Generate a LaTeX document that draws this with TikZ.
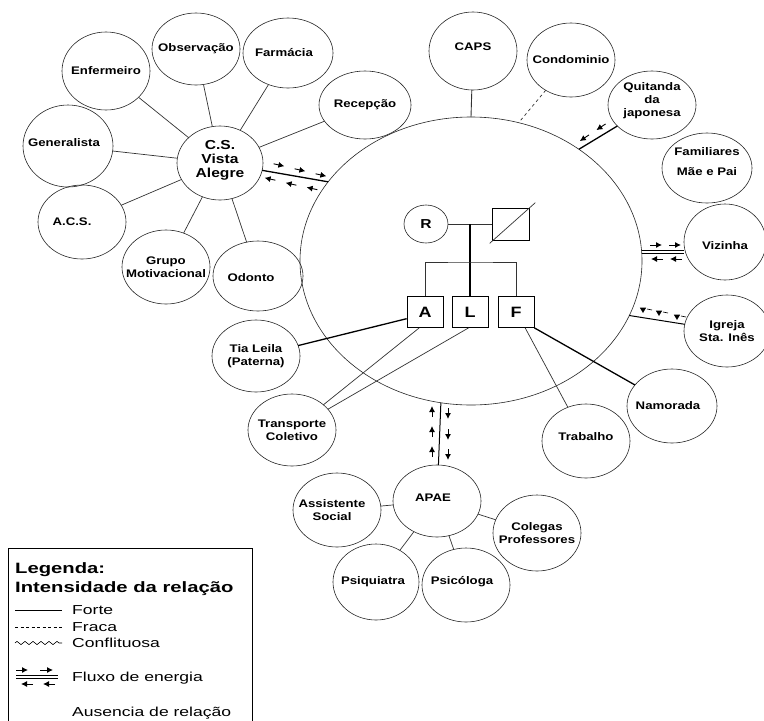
\documentclass[tikz,border=0pt]{standalone}
\usepackage{fontspec}
\setmainfont[FakeStretch=1.2]{Liberation Sans}
\newfontfamily\legf[FakeStretch=1.35]{Liberation Sans}
\usetikzlibrary{shapes.geometric,arrows.meta,decorations.pathmorphing,calc}
\begin{document}
\begin{tikzpicture}[x=1pt,y=-1pt,
  ell/.style={ellipse, draw=black!85, line width=0.6pt, inner sep=0pt, outer sep=0pt},
  lab/.style={font=\bfseries\fontsize{11}{13}\selectfont, align=center, inner sep=0pt},
  ln/.style={draw=black!80, line width=0.7pt},
  st/.style={draw=black, line width=1.3pt},
  fl/.style={-{Latex[length=6pt,width=6pt]}, line width=0.9pt},
  gbox/.style={rectangle, draw, line width=0.7pt, inner sep=0pt, minimum width=36, minimum height=31, font=\bfseries\fontsize{15}{15}\selectfont},
  legt/.style={anchor=west, inner sep=0pt, font=\legf\bfseries\fontsize{15}{15}\selectfont},
  legn/.style={anchor=west, inner sep=0pt, font=\legf\fontsize{13}{13}\selectfont}
]
\path[use as bounding box, fill=white] (0,0) rectangle (764,721);

% big circle
\node[ell, minimum width=342, minimum height=288] (big) at (471,261) {};

% C.S. cluster
\node[ell, minimum width=86, minimum height=74, label={[lab, font=\bfseries\fontsize{13}{14}\selectfont, yshift=3]center:{C.S.\\Vista\\Alegre}}] (cs) at (220,163) {};
\node[ell, minimum width=88, minimum height=78, label={[lab]center:Enfermeiro}] (enf) at (106,71) {};
\node[ell, minimum width=88, minimum height=72, label={[lab]center:Observação}] (obs) at (196,49) {};
\node[ell, minimum width=90, minimum height=70, label={[lab, xshift=-4]center:Farmácia}] (farm) at (288,53) {};
\node[ell, minimum width=92, minimum height=68, label={[lab]center:Recepção}] (rec) at (365,105) {};
\node[ell, minimum width=90, minimum height=82, label={[lab, xshift=-4, yshift=3]center:Generalista}] (gen) at (68,146) {};
\node[ell, minimum width=88, minimum height=74, label={[lab, xshift=-10]center:A.C.S.}] (acs) at (82,222) {};
\node[ell, minimum width=88, minimum height=74, label={[lab]center:{Grupo\\Motivacional}}] (grupo) at (166,267) {};
\node[ell, minimum width=90, minimum height=70, label={[lab, xshift=-7, yshift=-2]center:Odonto}] (odonto) at (258,276) {};

% right/top
\node[ell, minimum width=88, minimum height=78, label={[lab, yshift=4]center:CAPS}] (caps) at (473,51) {};
\node[ell, minimum width=88, minimum height=74, label={[lab]center:Condominio}] (cond) at (571,60) {};
\node[ell, minimum width=88, minimum height=68, label={[lab, yshift=4]center:{Quitanda\\da\\japonesa}}] (quit) at (652,105) {};
\node[ell, minimum width=90, minimum height=70, label={[lab, font=\bfseries\fontsize{11}{20}\selectfont, yshift=6]center:{Familiares\\Mãe e Pai}}] (famil) at (707,168) {};
\node[ell, minimum width=82, minimum height=76, label={[lab, yshift=-4]center:Vizinha}] (viz) at (725,242) {};
\node[ell, minimum width=86, minimum height=72, label={[lab]center:{Igreja\\Sta. Inês}}] (igr) at (727,331) {};
\node[ell, minimum width=90, minimum height=74, label={[lab, xshift=-4]center:Namorada}] (nam) at (672,406) {};
\node[ell, minimum width=88, minimum height=74, label={[lab, yshift=4]center:Trabalho}] (trab) at (586,441) {};

% left/bottom
\node[ell, minimum width=88, minimum height=72, label={[lab]center:{Tia Leila\\(Paterna)}}] (tia) at (256,356) {};
\node[ell, minimum width=88, minimum height=72, label={[lab]center:{Transporte\\Coletivo}}] (trans) at (292,430) {};
\node[ell, minimum width=88, minimum height=72, label={[lab, xshift=-4, yshift=3]center:APAE}] (apae) at (437,501) {};
\node[ell, minimum width=88, minimum height=74, label={[lab, xshift=-5]center:{Assistente\\Social}}] (asoc) at (337,510) {};
\node[ell, minimum width=88, minimum height=76, label={[lab]center:{Colegas\\Professores}}] (coleg) at (537,533) {};
\node[ell, minimum width=86, minimum height=76, label={[lab, xshift=-3]center:Psiquiatra}] (psiq) at (376,582) {};
\node[ell, minimum width=88, minimum height=74, label={[lab, xshift=-4, yshift=3]center:Psicóloga}] (psic) at (466,585) {};

% genogram
\node[ell, minimum width=44, minimum height=38, font=\bfseries\fontsize{13}{13}\selectfont] (R) at (426,224) {R};
\node[rectangle, draw, line width=0.7pt, minimum width=37, minimum height=32, inner sep=0pt] (sq) at (511,224) {};
\node[gbox] (A) at (425,312) {A};
\node[gbox] (L) at (470,312) {L};
\node[gbox] (F) at (516,312) {F};
\coordinate (sib) at (470,262);
\draw[ln] (R) -- (sq);
\draw[ln] ($(sq.south west)+(-2.5,3)$) -- ($(sq.north east)+(5.5,-5)$);
\draw[line width=1.6pt] (L.north |- R.east) -- (L.north);
\draw[ln] (A.north) |- (sib) -| (F.north);

% C.S. connections
\foreach \n in {enf,obs,farm,rec,gen,acs,grupo,odonto} \draw[ln] (cs) -- (\n);
\draw[st] (cs) -- (big.151);
\draw[fl] (273.6,163.8) -- (284.4,166.2);
\draw[fl] (294.6,168.8) -- (305.4,171.2);
\draw[fl] (315.6,173.8) -- (326.4,176.2);
\draw[fl] (275.4,180.2) -- (264.6,177.8);
\draw[fl] (296.4,185.2) -- (285.6,182.8);
\draw[fl] (317.4,189.7) -- (306.6,187.3);

% other connections
\draw[ln, line width=0.9pt] (caps) -- (big.north);
\draw[ln, dashed] (cond) -- (big.71);
\draw[st] (quit) -- (big.46);
\draw[fl] (605.6,123.9) -- (596.4,130.1);
\draw[fl] (589.0,134.9) -- (579.8,141.1);

\path (big.3) coordinate (vz1);
\coordinate (vz2) at (vz1 -| viz.west);
\draw[line width=0.8pt] ($(vz1)+(0,-1.3)$) -- ($(vz2)+(0,-1.3)$);
\draw[line width=0.8pt] ($(vz1)+(0,1.3)$) -- ($(vz2)+(0,1.3)$);
\draw[fl] (650,245) -- (662,245);
\draw[fl] (669,245) -- (681,245);
\draw[fl] (663,259) -- (651,259);
\draw[fl] (682,259) -- (670,259);

\draw[line width=1pt] (big.-19) -- (igr);
\foreach \cx/\cy in {643/310, 659/313, 677/317} {
  \fill (\cx-3.2,\cy-2.4) -- (\cx+3.2,\cy-2.4) -- (\cx,\cy+3) -- cycle;
  \draw[line width=0.6pt] (\cx+4,\cy-1) -- (\cx+9,\cy);
}

\draw[st] (F.south east) -- (nam);
\draw[ln] (F.300) -- (trab);
\draw[st] (tia) -- (A.200);
\draw[ln] (A.250) -- (trans);
\draw[ln] (L.265) -- (trans);

\draw[line width=1pt] (big.258) -- (apae);
\draw[fl] (432,417) -- (432,406);
\draw[fl] (432,437) -- (432,426);
\draw[fl] (432,457) -- (432,446);
\draw[fl] (448,408) -- (448,419);
\draw[fl] (448,429) -- (448,440);
\draw[fl] (448,449) -- (448,460);
\foreach \n in {asoc,coleg,psiq,psic} \draw[ln] (apae) -- (\n);

% legend
\draw[line width=0.7pt] (8,721) -- (8,548) -- (252,548) -- (252,721);
\node[legt] (lg1) at (15,570) {Legenda:};
\node[legt] (lg2) at (15,589) {Intensidade da relação};
\coordinate (a1) at (15,610); \coordinate (a2) at (62,610);
\draw[line width=1pt] (a1) -- (a2);
\node[legn] (lforte) at (72,610) {Forte};
\coordinate (b1) at (15,627); \coordinate (b2) at (62,627);
\draw[line width=0.7pt, dash pattern=on 3pt off 2.5pt] (b1) -- (b2);
\node[legn] (lfraca) at (72,627) {Fraca};
\coordinate (c1) at (15,643); \coordinate (c2) at (62,643);
\draw[line width=0.6pt, decorate, decoration={zigzag, segment length=8pt, amplitude=1.6pt}] (c1) -- (c2);
\node[legn] (lconf) at (72,643) {Conflituosa};
\coordinate (d1) at (16,677); \coordinate (d2) at (58,677);
\draw[line width=0.7pt] ($(d1)+(0,-1.2)$) -- ($(d2)+(0,-1.2)$);
\draw[line width=0.7pt] ($(d1)+(0,1.2)$) -- ($(d2)+(0,1.2)$);
\draw[fl] (16,670) -- (28,670);
\draw[fl] (40,670) -- (53,670);
\draw[fl] (33,684) -- (21,684);
\draw[fl] (55,684) -- (43,684);
\node[legn] (lflux) at (72,678) {Fluxo de energia};
\node[legn] (laus) at (72,713) {Ausencia de relação};
\end{tikzpicture}
\end{document}
